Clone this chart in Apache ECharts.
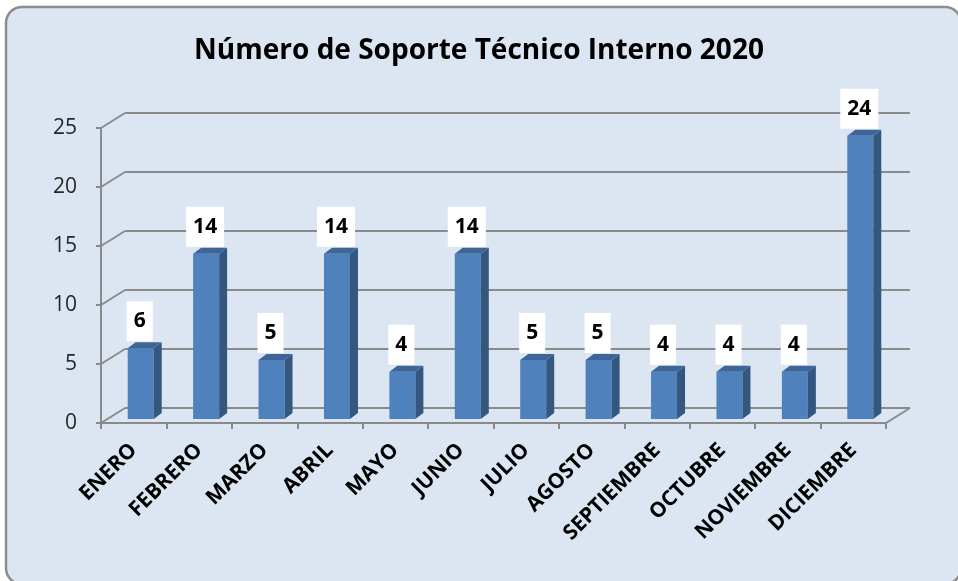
<!DOCTYPE html>
<html>
<head>
<meta charset="utf-8">
<script src="https://cdn.jsdelivr.net/npm/echarts@6/dist/echarts.min.js"></script>
<style>
  html, body { margin: 0; padding: 0; background: #fff; }
  #chart { width: 958px; height: 581px; }
</style>
</head>
<body>
<div id="chart"></div>
<script>
// months along the x axis
const months = ['ENERO', 'FEBRERO', 'MARZO', 'ABRIL', 'MAYO', 'JUNIO', 'JULIO',
  'AGOSTO', 'SEPTIEMBRE', 'OCTUBRE', 'NOVIEMBRE', 'DICIEMBRE'];
// number of internal support tickets per month
const tickets = [6, 14, 5, 14, 4, 14, 5, 5, 4, 4, 4, 24];
// y axis ticks
const yTicks = [0, 5, 10, 15, 20, 25];

// 3d look: depth offset of the back wall, and of the bars inside the box
const DEPTH_X = 24, DEPTH_Y = -15;
const BAR_X = 7, BAR_Y = -4, BAR_W = 26, SIDE_X = 8, SIDE_Y = -6;
const gridColor = '#8a8a8a';
const font = '"Open Sans", sans-serif';

const chart = echarts.init(document.getElementById('chart'));

const option = {
  animation: false,
  backgroundColor: '#ffffff',
  graphic: [{
    type: 'rect',
    z: -10,
    shape: { x: 6, y: 7, width: 955, height: 577, r: 16 },
    style: { fill: '#dce6f2', stroke: '#8c8c8c', lineWidth: 2.5 }
  }],
  title: {
    text: 'Número de Soporte Técnico Interno 2020',
    left: 'center',
    top: 32,
    textStyle: { fontFamily: font, fontWeight: 'bold', fontSize: 28, color: '#000' }
  },
  grid: [
    // front plane (axes, labels)
    { left: 101, right: 72, top: 128, bottom: 158 },
    // back wall (gridlines)
    { left: 101 + DEPTH_X, right: 72 - DEPTH_X, top: 128 + DEPTH_Y, bottom: 158 - DEPTH_Y }
  ],
  xAxis: [
    {
      type: 'category', gridIndex: 0, data: months, boundaryGap: true,
      axisLine: { lineStyle: { color: gridColor, width: 2 } },
      axisTick: { show: true, interval: 0, length: 6, lineStyle: { color: gridColor, width: 2 } },
      axisLabel: {
        interval: 0, rotate: 45, margin: 24, padding: [10, 0, 0, 0],
        fontFamily: font, fontWeight: 'bold', fontSize: 21, color: '#000'
      }
    },
    { type: 'category', gridIndex: 1, data: months, show: false }
  ],
  yAxis: [
    {
      type: 'value', gridIndex: 0, min: 0, max: 25, interval: 5,
      axisLine: { show: true, lineStyle: { color: gridColor, width: 2 } },
      axisTick: { show: true, length: 5, lineStyle: { color: gridColor, width: 2 } },
      axisLabel: { margin: 24, fontFamily: font, fontSize: 21, color: '#262626' },
      splitLine: { show: false }
    },
    {
      type: 'value', gridIndex: 1, min: 0, max: 25, interval: 5,
      axisLine: { show: false }, axisTick: { show: false }, axisLabel: { show: false },
      splitLine: { show: true, lineStyle: { color: gridColor, width: 2 } }
    }
  ],
  series: [
    // diagonal lines joining the front axis to the back wall
    {
      type: 'custom', xAxisIndex: 0, yAxisIndex: 0, silent: true, clip: false,
      data: yTicks.map(t => [0, t]),
      renderItem: (params, api) => {
        const cs = params.coordSys;
        const y = api.coord([0, api.value(1)])[1];
        const children = [{
          type: 'line',
          shape: { x1: cs.x, y1: y, x2: cs.x + DEPTH_X, y2: y + DEPTH_Y },
          style: { stroke: gridColor, lineWidth: 2 }
        }];
        if (api.value(1) === 0) {
          children.push({
            type: 'line',
            shape: { x1: cs.x + cs.width, y1: y, x2: cs.x + cs.width + DEPTH_X, y2: y + DEPTH_Y },
            style: { stroke: gridColor, lineWidth: 2 }
          });
        }
        return { type: 'group', children };
      }
    },
    // 3d columns with value labels
    {
      type: 'custom', xAxisIndex: 0, yAxisIndex: 0, clip: false,
      data: tickets.map((v, i) => [i, v]),
      renderItem: (params, api) => {
        const base = api.coord([api.value(0), 0]);
        const top = api.coord([api.value(0), api.value(1)]);
        const x0 = base[0] + BAR_X - BAR_W / 2;
        const y0 = base[1] + BAR_Y;
        const y1 = top[1] + BAR_Y;
        return {
          type: 'group',
          children: [
            {
              type: 'rect',
              shape: { x: x0, y: y1, width: BAR_W, height: y0 - y1 },
              style: { fill: '#4f81bd' }
            },
            {
              type: 'polygon',
              shape: { points: [[x0 + BAR_W, y1], [x0 + BAR_W + SIDE_X, y1 + SIDE_Y],
                [x0 + BAR_W + SIDE_X, y0 + SIDE_Y], [x0 + BAR_W, y0]] },
              style: { fill: '#34577f' }
            },
            {
              type: 'polygon',
              shape: { points: [[x0, y1], [x0 + SIDE_X, y1 + SIDE_Y],
                [x0 + BAR_W + SIDE_X, y1 + SIDE_Y], [x0 + BAR_W, y1]] },
              style: { fill: '#3e6597' }
            },
            {
              type: 'text',
              x: x0 + BAR_W / 2 - 1,
              y: y1 + SIDE_Y - 1,
              style: {
                text: String(api.value(1)),
                fontFamily: font, fontWeight: 'bold', fontSize: 21,
                fill: '#000', align: 'center', verticalAlign: 'bottom',
                backgroundColor: '#ffffff', padding: [9, 7], lineHeight: 22
              }
            }
          ]
        };
      }
    }
  ]
};

chart.setOption(option);
window.addEventListener('resize', () => chart.resize());
</script>
</body>
</html>
